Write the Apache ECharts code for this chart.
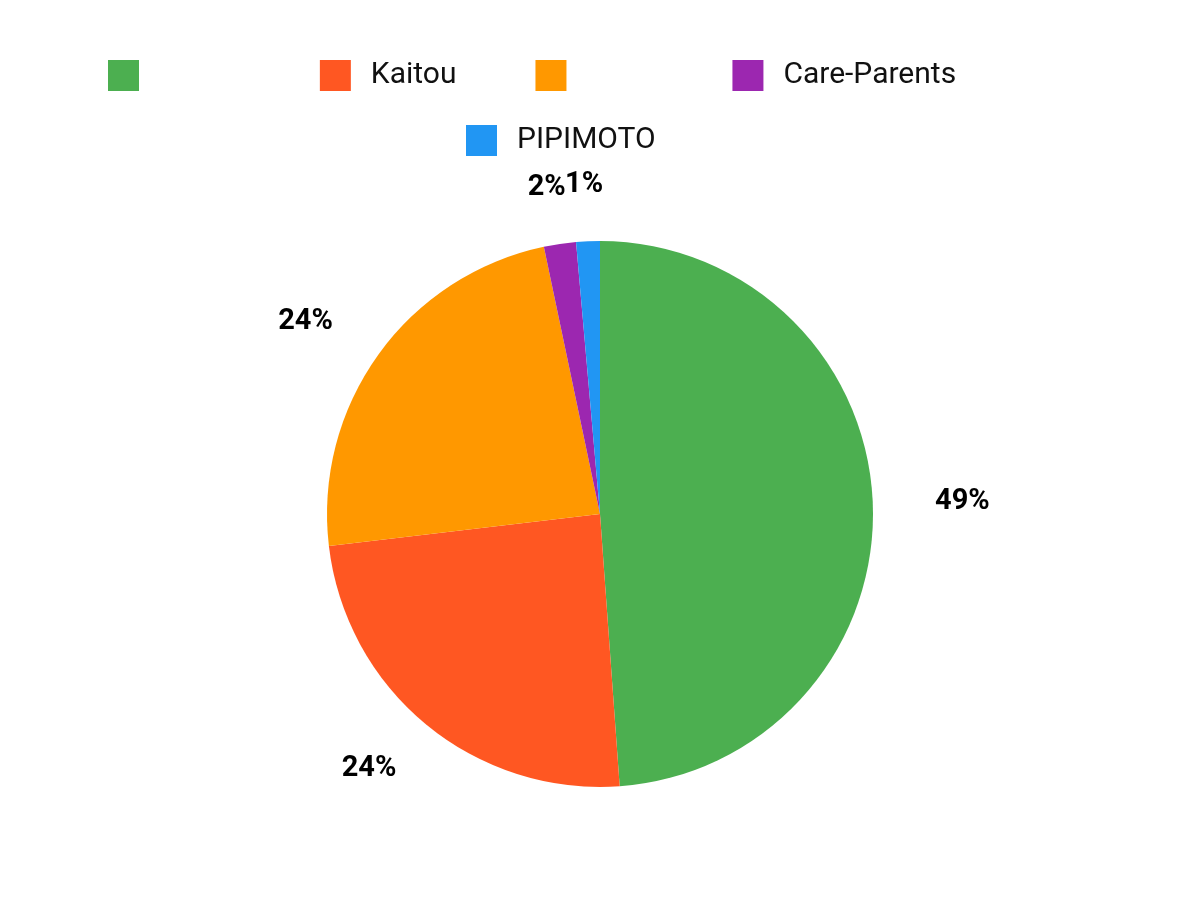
<!DOCTYPE html>
<html>
<head>
<meta charset="utf-8">
<script src="https://cdn.jsdelivr.net/npm/echarts@6/dist/echarts.min.js"></script>
<style>
html, body { margin: 0; padding: 0; background: #fff; }
#chart { width: 1200px; height: 900px; }
</style>
</head>
<body>
<div id="chart"></div>
<script>
// Slice names (two entries are shown blank in the reference legend)
const names = ['           ', 'Kaitou', '         ', 'Care-Parents', 'PIPIMOTO'];
// Slice sizes as read from the drawn arcs and printed percentages
const values = [48.9, 24.3, 23.6, 1.9, 1.4];
const colors = ['#4CAF50', '#FF5722', '#FF9800', '#9C27B0', '#2196F3'];
const legendRow1 = [names[0], names[1], names[2], names[3]];
const legendRow2 = [names[4]];

const chart = echarts.init(document.getElementById('chart'), null, { renderer: 'canvas' });

const legendBase = {
  orient: 'horizontal',
  padding: 0,
  itemWidth: 31,
  itemHeight: 31,
  itemGap: 79,
  icon: 'rect',
  textStyle: { fontFamily: 'Roboto', fontSize: 30, color: '#111', padding: [0, 0, 0, 15] }
};

// Centre each percentage label just outside its slice, following the slice's
// radial direction (wider horizontal than vertical clearance, like a text box).
function placeLabel(p) {
  const pts = p.labelLinePoints;
  if (!pts || pts.length < 2) return {};
  const x0 = pts[0][0], y0 = pts[0][1];
  let dx = pts[1][0] - x0, dy = pts[1][1] - y0;
  const n = Math.hypot(dx, dy) || 1;
  dx /= n; dy /= n;
  return { x: x0 + dx * 89.6, y: y0 + dy * 57, align: 'center', verticalAlign: 'middle' };
}

const option = {
  backgroundColor: '#ffffff',
  animation: false,
  color: colors,
  legend: [
    Object.assign({}, legendBase, { left: 108, top: 60, data: legendRow1 }),
    Object.assign({}, legendBase, { left: 466, top: 125, data: legendRow2 })
  ],
  series: [
    {
      type: 'pie',
      center: [600, 514],
      radius: [0, 273],
      startAngle: 90,
      clockwise: true,
      silent: true,
      percentPrecision: 0,
      avoidLabelOverlap: false,
      minShowLabelAngle: 0,
      itemStyle: { borderWidth: 0 },
      label: {
        show: true,
        position: 'outside',
        formatter: '{d}%',
        fontFamily: 'Roboto',
        fontWeight: 'bold',
        fontSize: 29,
        color: '#000'
      },
      labelLine: { show: true, length: 20, length2: 0, lineStyle: { opacity: 0, width: 0 } },
      labelLayout: placeLabel,
      data: names.map((n, i) => ({ name: n, value: values[i], itemStyle: { color: colors[i] } }))
    }
  ]
};

chart.setOption(option);
</script>
</body>
</html>
